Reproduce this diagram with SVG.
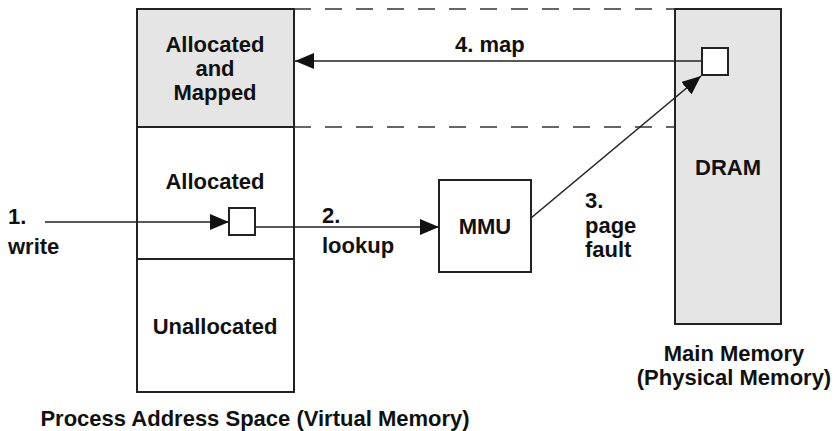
<svg xmlns="http://www.w3.org/2000/svg" width="834" height="431" viewBox="0 0 834 431">
<defs>
<style>
text{font-family:"Liberation Sans",Arial,sans-serif;font-weight:bold;font-size:22px;fill:#111}
.c{text-anchor:middle}
.box{stroke:#222;stroke-width:2}
.ln{stroke:#222;stroke-width:1.6;fill:none}
.dash{stroke:#333;stroke-width:1.6;stroke-dasharray:17 14;fill:none}
</style>
<marker id="ah" markerUnits="userSpaceOnUse" markerWidth="19" markerHeight="16" refX="19" refY="8" orient="auto">
<path d="M0,0 L19,8 L0,16 z" fill="#111"/>
</marker>
</defs>
<rect width="834" height="431" fill="#fff"/>
<g id="process-space">
<rect x="137" y="9" width="157" height="118" fill="#e6e5e6" class="box"/>
<rect x="137" y="127" width="157" height="132" fill="#fff" class="box"/>
<rect x="137" y="259" width="157" height="133" fill="#fff" class="box"/>
<text x="215" y="52" class="c">Allocated</text>
<text x="215" y="76" class="c">and</text>
<text x="215" y="100" class="c">Mapped</text>
<text x="215" y="189" class="c">Allocated</text>
<text x="215" y="334" class="c">Unallocated</text>
<text x="255" y="426" class="c">Process Address Space (Virtual Memory)</text>
</g>
<g id="vpage">
<rect x="229" y="208" width="26" height="27" fill="#fff" class="box"/>
</g>
<g id="mmu">
<rect x="439" y="180" width="92" height="92" fill="#fff" class="box"/>
<text x="485" y="234" class="c">MMU</text>
</g>
<g id="dram">
<rect x="675" y="9" width="106" height="315" fill="#e6e5e6" class="box"/>
<text x="728" y="175" class="c">DRAM</text>
<text x="734" y="361" class="c">Main Memory</text>
<text x="734" y="385" class="c">(Physical Memory)</text>
</g>
<g id="ppage">
<rect x="702" y="48" width="26" height="27" fill="#fff" class="box"/>
</g>
<g id="connectors">
<line x1="294" y1="9" x2="675" y2="9" class="dash"/>
<line x1="294" y1="127" x2="675" y2="127" class="dash"/>
<line x1="45" y1="222" x2="229" y2="222" class="ln" marker-end="url(#ah)"/>
<line x1="255" y1="227" x2="439" y2="227" class="ln" marker-end="url(#ah)"/>
<line x1="531" y1="218" x2="701" y2="76" class="ln" marker-end="url(#ah)"/>
<line x1="702" y1="61" x2="295" y2="61" class="ln" marker-end="url(#ah)"/>
<text x="455" y="52">4. map</text>
<text x="8" y="224">1.</text>
<text x="8" y="254">write</text>
<text x="322" y="223">2.</text>
<text x="322" y="253">lookup</text>
<text x="585" y="208">3.</text>
<text x="585" y="233">page</text>
<text x="585" y="257">fault</text>
</g>
</svg>
